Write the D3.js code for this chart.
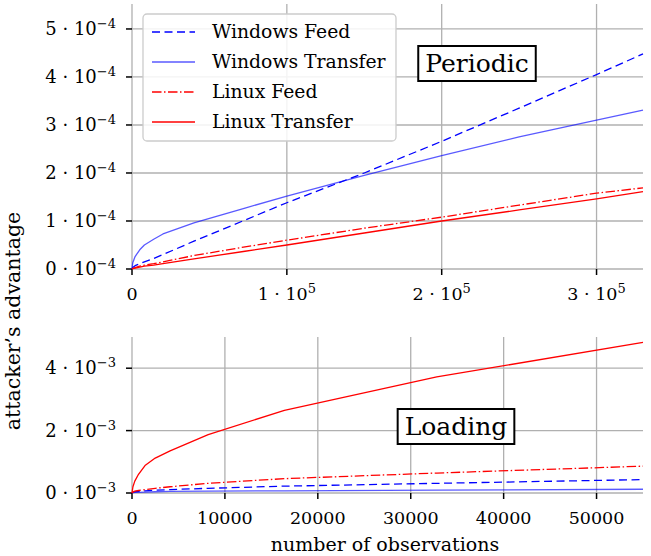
<!DOCTYPE html>
<html>
<head>
<meta charset="utf-8">
<script src="https://cdn.jsdelivr.net/npm/d3@7"></script>
<style>
  body { margin: 0; background: #fff; }
  text { font-family: "DejaVu Serif", serif; }
</style>
</head>
<body>
<div id="chart"></div>
<script>
// set the dimensions of the figure
var width = 651,
    height = 556;

// series names for the legend
var seriesNames = ["Windows Feed", "Windows Transfer", "Linux Feed", "Linux Transfer"];

// Periodic panel data (x = observations, y = advantage)
var periodicX = [0, 500, 2000, 5000, 8000, 14000, 20000, 40000, 73000, 100000, 150000, 200000, 250000, 300000, 330000];
var periodicWinFeed = [0, 0.03e-4, 0.07e-4, 0.11e-4, 0.15e-4, 0.22e-4, 0.3e-4, 0.58e-4, 1.02e-4, 1.38e-4, 2.0e-4, 2.66e-4, 3.35e-4, 4.05e-4, 4.48e-4];
var periodicWinTransfer = [0, 0.13e-4, 0.26e-4, 0.4e-4, 0.5e-4, 0.62e-4, 0.73e-4, 0.96e-4, 1.27e-4, 1.52e-4, 1.95e-4, 2.36e-4, 2.75e-4, 3.1e-4, 3.31e-4];
var periodicLinFeed = [0, 0.01e-4, 0.03e-4, 0.06e-4, 0.08e-4, 0.11e-4, 0.15e-4, 0.28e-4, 0.46e-4, 0.6e-4, 0.85e-4, 1.08e-4, 1.33e-4, 1.58e-4, 1.69e-4];
var periodicLinTransfer = [0, 0.01e-4, 0.02e-4, 0.04e-4, 0.06e-4, 0.08e-4, 0.11e-4, 0.21e-4, 0.37e-4, 0.5e-4, 0.75e-4, 1.0e-4, 1.23e-4, 1.46e-4, 1.61e-4];

// Loading panel data
var loadingX = [0, 100, 300, 700, 1400, 2500, 4100, 8200, 16400, 32800, 55000];
var loadingWinFeed = [0, 0.02e-3, 0.04e-3, 0.05e-3, 0.07e-3, 0.09e-3, 0.11e-3, 0.15e-3, 0.22e-3, 0.31e-3, 0.43e-3];
var loadingWinTransfer = [0, 0.01e-3, 0.02e-3, 0.02e-3, 0.03e-3, 0.04e-3, 0.05e-3, 0.06e-3, 0.07e-3, 0.09e-3, 0.12e-3];
var loadingLinFeed = [0, 0.03e-3, 0.06e-3, 0.08e-3, 0.11e-3, 0.15e-3, 0.2e-3, 0.31e-3, 0.46e-3, 0.64e-3, 0.86e-3];
var loadingLinTransfer = [0, 0.2e-3, 0.38e-3, 0.6e-3, 0.88e-3, 1.12e-3, 1.35e-3, 1.87e-3, 2.65e-3, 3.72e-3, 4.83e-3];

// tick values
var periodicXTicks = [0, 1, 2, 3];        // times 10^5
var periodicYTicks = [0, 1, 2, 3, 4, 5];  // times 10^-4
var loadingXTicks = [0, 10000, 20000, 30000, 40000, 50000];
var loadingYTicks = [0, 2, 4];            // times 10^-3

var styles = [
  { color: "#0000ff", dash: "8,4.5", opacity: 1 },
  { color: "#0000ff", dash: null, opacity: 0.65 },
  { color: "#ff0000", dash: "9.5,2.5,1.5,2.5", opacity: 1 },
  { color: "#ff0000", dash: null, opacity: 1 }
];

var svg = d3.select("#chart")
    .append("svg")
    .attr("width", width)
    .attr("height", height);

function drawPanel(opt) {
  var x = d3.scaleLinear().domain(opt.xDomain).range([132, 643]);
  var y = d3.scaleLinear().domain(opt.yDomain).range([opt.bottom, opt.top]);
  var g = svg.append("g");

  // grid
  g.selectAll(".vg").data(opt.xTicks).enter().append("line")
    .attr("x1", function(d) { return x(d * opt.xMul); })
    .attr("x2", function(d) { return x(d * opt.xMul); })
    .attr("y1", opt.top).attr("y2", opt.bottom)
    .attr("stroke", "#b0b0b0").attr("stroke-width", 1.3);
  g.selectAll(".hg").data(opt.yTicks).enter().append("line")
    .attr("x1", 132).attr("x2", 643)
    .attr("y1", function(d) { return y(d * opt.yMul); })
    .attr("y2", function(d) { return y(d * opt.yMul); })
    .attr("stroke", "#b0b0b0").attr("stroke-width", 1.3);

  // ticks
  g.selectAll(".xt").data(opt.xTicks).enter().append("line")
    .attr("x1", function(d) { return x(d * opt.xMul); })
    .attr("x2", function(d) { return x(d * opt.xMul); })
    .attr("y1", opt.bottom).attr("y2", opt.bottom + 6)
    .attr("stroke", "#000").attr("stroke-width", 1.5);
  g.selectAll(".yt").data(opt.yTicks).enter().append("line")
    .attr("x1", 126).attr("x2", 132)
    .attr("y1", function(d) { return y(d * opt.yMul); })
    .attr("y2", function(d) { return y(d * opt.yMul); })
    .attr("stroke", "#000").attr("stroke-width", 1.5);

  // x tick labels
  g.selectAll(".xl").data(opt.xTicks).enter().append("text")
    .attr("x", function(d) { return x(d * opt.xMul); })
    .attr("y", opt.bottom + 31)
    .attr("text-anchor", "middle")
    .attr("font-size", 17.5)
    .each(function(d) {
      var t = d3.select(this);
      if (opt.xExp && d !== 0) {
        t.append("tspan").text(d + " \u00b7 10");
        t.append("tspan").attr("dy", -7).attr("font-size", 13).text(opt.xExp);
      } else {
        t.text(d);
      }
    });

  // y tick labels
  g.selectAll(".yl").data(opt.yTicks).enter().append("text")
    .attr("x", 116)
    .attr("y", function(d) { return y(d * opt.yMul) + 6; })
    .attr("text-anchor", "end")
    .attr("font-size", 18)
    .each(function(d) {
      var t = d3.select(this);
      t.append("tspan").text(d + " \u00b7 10");
      t.append("tspan").attr("dy", -7).attr("font-size", 13).text(opt.yExp);
    });

  // lines
  var line = d3.line()
    .x(function(d) { return x(d[0]); })
    .y(function(d) { return y(d[1]); });

  opt.series.forEach(function(s, i) {
    var pts = opt.xs.map(function(v, j) { return [v, s[j]]; });
    g.append("path")
      .attr("d", line(pts))
      .attr("fill", "none")
      .attr("stroke", styles[i].color)
      .attr("stroke-opacity", styles[i].opacity)
      .attr("stroke-width", 1.3)
      .attr("stroke-linejoin", "round")
      .attr("stroke-dasharray", styles[i].dash);
  });

  // panel label box
  var lab = g.append("text")
    .attr("x", opt.labelX).attr("y", opt.labelY)
    .attr("text-anchor", "middle")
    .attr("font-size", 25)
    .text(opt.label);
  var bb = lab.node().getBBox();
  g.append("rect")
    .attr("x", bb.x - 7).attr("y", bb.y - 3)
    .attr("width", bb.width + 14).attr("height", bb.height + 6)
    .attr("fill", "#fff").attr("stroke", "#000").attr("stroke-width", 2);
  lab.raise();
  return g;
}

drawPanel({
  xDomain: [0, 330000], yDomain: [0, 5.52e-4], top: 4, bottom: 269,
  xTicks: periodicXTicks, xMul: 1e5, xExp: "5",
  yTicks: periodicYTicks, yMul: 1e-4, yExp: "\u22124",
  xs: periodicX,
  series: [periodicWinFeed, periodicWinTransfer, periodicLinFeed, periodicLinTransfer],
  label: "Periodic", labelX: 477, labelY: 72
});

drawPanel({
  xDomain: [0, 55000], yDomain: [0, 5e-3], top: 337, bottom: 493,
  xTicks: loadingXTicks, xMul: 1, xExp: null,
  yTicks: loadingYTicks, yMul: 1e-3, yExp: "\u22123",
  xs: loadingX,
  series: [loadingWinFeed, loadingWinTransfer, loadingLinFeed, loadingLinTransfer],
  label: "Loading", labelX: 456, labelY: 435
});

// legend
var leg = svg.append("g");
leg.append("rect")
  .attr("x", 143).attr("y", 14).attr("width", 253).attr("height", 127)
  .attr("rx", 4)
  .attr("fill", "#fff").attr("fill-opacity", 0.85)
  .attr("stroke", "#cccccc").attr("stroke-width", 1.3);
seriesNames.forEach(function(name, i) {
  var yy = 32 + i * 30;
  leg.append("line")
    .attr("x1", 152).attr("x2", 195).attr("y1", yy).attr("y2", yy)
    .attr("stroke", styles[i].color)
    .attr("stroke-opacity", styles[i].opacity)
    .attr("stroke-width", 1.3)
    .attr("stroke-dasharray", styles[i].dash);
  leg.append("text")
    .attr("x", 212).attr("y", yy + 6)
    .attr("font-size", 18.8)
    .text(name);
});

// axis titles
svg.append("text")
  .attr("transform", "translate(20,321) rotate(-90)")
  .attr("text-anchor", "middle")
  .attr("font-size", 20.5)
  .text("attacker\u2019s advantage");
svg.append("text")
  .attr("x", 385).attr("y", 551)
  .attr("text-anchor", "middle")
  .attr("font-size", 19)
  .text("number of observations");
</script>
</body>
</html>
